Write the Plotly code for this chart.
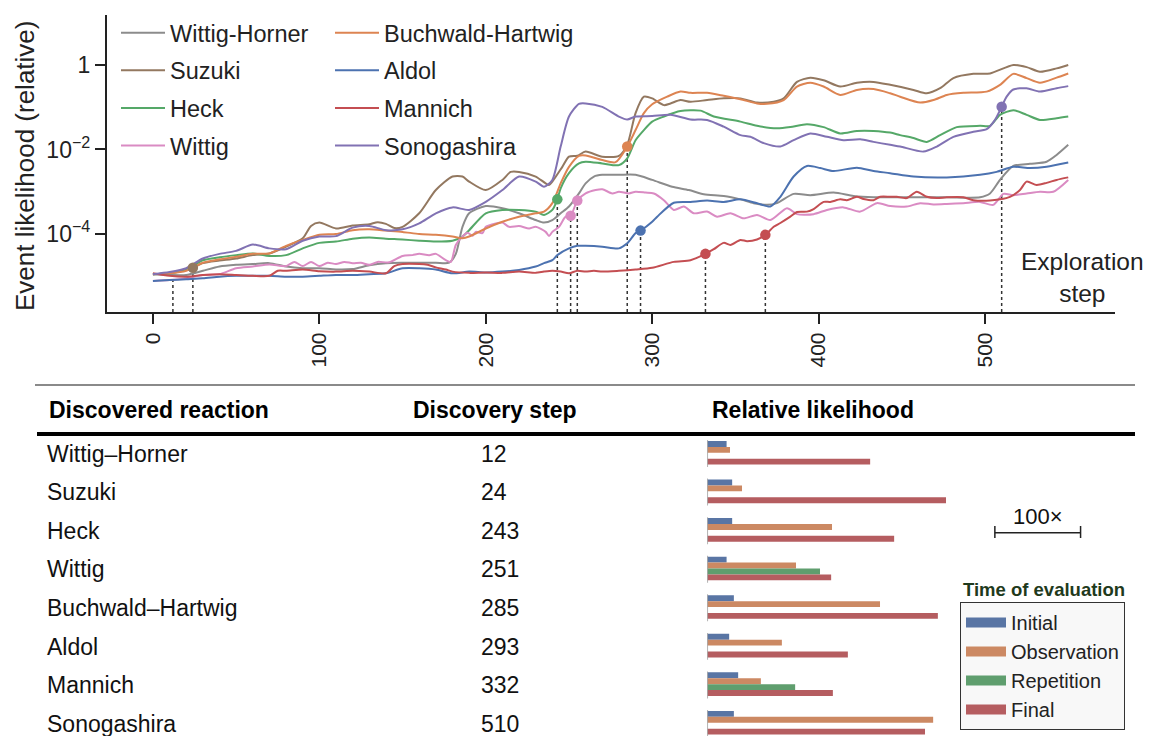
import numpy as np
import plotly.graph_objects as go

W, H = 1151, 736
BODY = 8  # default page margin of the html body
FONT = "Liberation Sans, Arial, Helvetica, sans-serif"

# ---------------- top chart data (log10 of event likelihood) ----------------
wh_steps = [0,10,20,30,40,50,60,70,80,90,100,110,120,130,140,150,160,170,178,182,186,190,200,210,220,230,235,240,245,250,
            256,260,265,270,280,290,300,312,322,331,343,353,361,369,375,385,395,409,421,433,443,457,477,497,503,509,517,527,537,543,550]
wh_log10 = [-4.95,-4.97,-4.97,-4.87,-4.77,-4.73,-4.71,-4.69,-4.77,-4.81,-4.81,-4.84,-4.83,-4.74,-4.69,-4.68,-4.68,-4.68,-4.68,-4.47,
            -3.83,-3.51,-3.34,-3.39,-3.51,-3.67,-3.73,-3.67,-3.51,-3.35,-3.04,-2.80,-2.64,-2.60,-2.60,-2.60,-2.72,-2.88,-2.96,-3.06,
            -3.10,-3.18,-3.27,-3.31,-3.27,-3.05,-3.08,-3.02,-3.10,-3.13,-3.13,-3.13,-3.13,-3.13,-3.04,-2.72,-2.39,-2.34,-2.29,-2.13,-1.89]

suzuki_steps = [0,10,20,24,30,40,50,60,70,80,90,95,100,110,120,130,135,140,145,150,160,170,180,186,190,200,210,215,220,230,
                238,240,246,250,255,260,270,280,285,290,295,300,307,311,317,323,333,343,353,363,373,379,387,395,403,413,423,433,443,457,
                465,473,481,493,503,517,525,533,543,550]
suzuki_log10 = [-4.95,-4.92,-4.85,-4.80,-4.69,-4.63,-4.58,-4.50,-4.46,-4.30,-4.10,-3.81,-3.73,-3.87,-3.80,-3.77,-3.72,-3.76,-3.86,-3.83,
                -3.51,-2.96,-2.64,-2.64,-2.76,-2.96,-2.72,-2.53,-2.53,-2.64,-2.84,-2.76,-2.41,-2.17,-2.15,-2.05,-2.17,-2.15,-1.89,-1.14,
                -0.75,-0.79,-0.95,-0.91,-0.83,-0.87,-0.83,-0.79,-0.79,-0.89,-0.87,-0.79,-0.40,-0.30,-0.36,-0.51,-0.42,-0.40,-0.47,-0.59,
                -0.67,-0.55,-0.31,-0.21,-0.20,0.00,-0.05,-0.16,-0.08,0.00]

heck_steps = [0,10,20,30,40,50,60,70,80,90,100,110,120,130,140,150,160,170,180,186,190,200,210,220,230,235,240,243,245,250,
              256,260,270,280,285,290,295,300,307,317,329,337,353,363,375,383,393,403,413,423,433,443,449,457,465,473,483,497,503,509,
              517,525,533,543,550]
heck_log10 = [-4.95,-4.93,-4.85,-4.62,-4.55,-4.50,-4.46,-4.52,-4.50,-4.34,-4.21,-4.18,-4.11,-4.08,-4.11,-4.13,-4.16,-4.18,-4.16,-4.06,
              -3.91,-3.51,-3.43,-3.43,-3.47,-3.55,-3.43,-3.18,-2.92,-2.56,-2.33,-2.29,-2.33,-2.37,-2.21,-1.78,-1.54,-1.34,-1.22,-1.09,
              -1.08,-1.22,-1.34,-1.44,-1.50,-1.47,-1.40,-1.47,-1.62,-1.56,-1.56,-1.60,-1.66,-1.73,-1.82,-1.66,-1.47,-1.44,-1.44,-1.18,
              -1.07,-1.18,-1.30,-1.26,-1.22]

wittig_steps = [0,10,20,30,40,50,60,70,80,85,90,95,100,105,110,115,120,125,130,135,142,150,156,160,166,170,176,179,182,186,
                189,192,194,198,200,206,210,214,220,226,230,236,238,240,244,248,251,255,260,266,270,276,280,286,290,296,301,307,313,319,
                325,333,339,347,355,363,371,381,387,397,405,415,425,435,443,453,461,469,477,487,497,505,511,517,525,533,541,550]
wittig_log10 = [-5.11,-5.09,-5.05,-4.97,-4.95,-4.81,-4.77,-4.72,-4.76,-4.66,-4.76,-4.66,-4.76,-4.68,-4.71,-4.66,-4.69,-4.68,-4.73,-4.66,
                -4.67,-4.52,-4.50,-4.47,-4.50,-4.47,-4.62,-4.66,-4.26,-4.06,-3.97,-4.04,-3.95,-3.98,-3.83,-3.75,-3.73,-3.83,-3.81,-3.87,
                -3.83,-3.95,-4.05,-3.95,-3.83,-3.59,-3.57,-3.21,-3.04,-2.96,-2.94,-3.04,-3.00,-3.04,-3.00,-3.02,-3.04,-3.20,-3.43,-3.35,
                -3.51,-3.47,-3.59,-3.51,-3.63,-3.55,-3.67,-3.39,-3.53,-3.53,-3.43,-3.37,-3.47,-3.27,-3.34,-3.35,-3.27,-3.30,-3.29,-3.27,
                -3.24,-3.31,-3.05,-3.08,-3.04,-3.00,-3.00,-2.72]

buchwald_steps = [0,10,20,30,40,50,60,70,80,90,100,110,120,130,140,150,160,170,180,186,190,200,210,220,230,235,240,245,250,256,
                  260,270,278,285,290,295,300,309,317,323,333,343,353,363,369,379,387,395,403,413,423,433,443,449,461,469,477,487,501,509,
                  517,525,533,543,550]
buchwald_log10 = [-4.95,-4.93,-4.87,-4.68,-4.60,-4.54,-4.47,-4.46,-4.28,-4.14,-4.02,-4.00,-3.91,-3.89,-3.92,-3.95,-4.00,-4.02,-4.06,-4.10,
                  -4.06,-3.87,-3.71,-3.59,-3.51,-3.47,-3.27,-2.80,-2.41,-2.15,-2.14,-2.25,-2.30,-1.93,-1.54,-1.14,-0.93,-0.75,-0.63,-0.66,
                  -0.66,-0.73,-0.81,-0.91,-0.92,-0.83,-0.51,-0.42,-0.51,-0.71,-0.59,-0.57,-0.67,-0.75,-0.89,-0.83,-0.71,-0.66,-0.63,-0.47,
                  -0.21,-0.31,-0.42,-0.30,-0.20]

aldol_steps = [0,10,20,30,40,50,60,70,80,90,100,110,120,130,140,150,160,170,180,190,200,210,220,230,235,240,243,250,255,260,
               270,280,285,290,293,300,303,313,323,333,343,353,363,371,377,385,393,401,409,423,433,443,457,477,497,507,517,527,537,550]
aldol_log10 = [-5.11,-5.09,-5.07,-5.05,-5.01,-4.99,-4.99,-4.99,-5.01,-5.01,-4.99,-4.97,-4.97,-4.95,-4.93,-4.81,-4.81,-4.84,-4.93,-4.89,
               -4.91,-4.89,-4.85,-4.77,-4.69,-4.62,-4.50,-4.34,-4.28,-4.28,-4.30,-4.34,-4.22,-3.98,-3.92,-3.71,-3.59,-3.26,-3.24,-3.21,
               -3.24,-3.18,-3.27,-3.35,-3.12,-2.64,-2.39,-2.44,-2.51,-2.43,-2.51,-2.56,-2.64,-2.66,-2.60,-2.53,-2.41,-2.44,-2.41,-2.31]

mannich_steps = [0,10,20,30,40,50,60,70,75,80,90,100,110,120,130,140,145,150,160,165,170,176,180,190,200,210,220,230,235,240,
                 245,250,255,260,265,270,280,290,300,313,323,332,337,343,347,353,357,363,368,373,377,383,387,393,397,403,407,413,417,423,
                 427,433,437,443,447,453,459,465,471,477,487,493,503,509,515,521,525,531,537,543,550]
mannich_log10 = [-4.93,-4.99,-5.01,-4.97,-4.95,-4.97,-4.99,-4.99,-4.87,-4.87,-4.84,-4.88,-4.89,-4.87,-4.89,-4.93,-4.76,-4.71,-4.71,-4.73,
                 -4.79,-4.84,-4.89,-4.92,-4.91,-4.92,-4.89,-4.92,-4.89,-4.87,-4.89,-4.93,-4.87,-4.89,-4.87,-4.89,-4.87,-4.84,-4.80,-4.66,
                 -4.62,-4.47,-4.36,-4.21,-4.26,-4.14,-4.17,-4.13,-4.02,-3.83,-3.74,-3.59,-3.48,-3.47,-3.41,-3.24,-3.24,-3.18,-3.20,-3.12,
                 -3.17,-3.20,-3.12,-3.12,-3.12,-3.15,-3.00,-3.12,-3.15,-3.13,-3.13,-3.20,-3.21,-3.18,-3.12,-2.96,-2.76,-2.84,-2.79,-2.72,
                 -2.66]

sonogashira_steps = [0,10,20,30,40,50,60,70,80,90,100,110,120,130,140,150,160,170,180,190,200,210,220,230,235,240,245,250,256,260,
                     270,280,285,290,300,311,323,333,343,353,359,367,377,385,395,405,415,425,433,443,449,463,471,481,493,501,506,510,513,517,
                     525,533,543,550]
sonogashira_log10 = [-4.95,-4.90,-4.81,-4.58,-4.47,-4.40,-4.25,-4.34,-4.36,-4.16,-4.06,-4.05,-3.85,-3.81,-3.91,-3.89,-3.75,-3.51,-3.37,-3.43,
                     -3.24,-2.96,-2.64,-2.76,-2.88,-2.72,-1.93,-1.22,-0.92,-0.91,-0.99,-1.22,-1.29,-1.22,-1.21,-1.18,-1.29,-1.30,-1.46,-1.66,
                     -1.70,-1.85,-1.93,-1.78,-1.62,-1.70,-1.78,-1.76,-1.82,-1.89,-1.93,-2.05,-1.93,-1.70,-1.58,-1.52,-1.30,-0.99,-0.75,-0.58,
                     -0.55,-0.63,-0.55,-0.50]

legend_names = ["Wittig-Horner", "Suzuki", "Heck", "Wittig", "Buchwald-Hartwig", "Aldol", "Mannich", "Sonogashira"]
line_colors = ["#8c8c8c", "#937860", "#55a868", "#da8bc3", "#dd8452", "#4c72b0", "#c44e52", "#8172b3"]
series_steps = [wh_steps, suzuki_steps, heck_steps, wittig_steps, buchwald_steps, aldol_steps, mannich_steps, sonogashira_steps]
series_log10 = [wh_log10, suzuki_log10, heck_log10, wittig_log10, buchwald_log10, aldol_log10, mannich_log10, sonogashira_log10]

# discovery events (dashed drop lines and dots)
event_steps = [12, 24, 243, 251, 255, 285, 293, 332, 368, 510]
event_log10 = [-5.09, -4.80, -3.18, -3.57, -3.21, -1.93, -3.92, -4.47, -4.02, -0.99]
event_series = [0, 1, 2, 3, 3, 4, 5, 6, 6, 7]
event_has_dot = [False, True, True, True, True, True, True, True, True, True]

# ---------------- table data ----------------
reactions = ["Wittig–Horner", "Suzuki", "Heck", "Wittig", "Buchwald–Hartwig", "Aldol", "Mannich", "Sonogashira"]
discovery_steps = [12, 24, 243, 251, 285, 293, 332, 510]
# relative likelihood, in decades (log10 fold)
initial_log10 = [0.45, 0.58, 0.58, 0.45, 0.62, 0.51, 0.72, 0.62]
observation_log10 = [0.53, 0.81, 2.91, 2.07, 4.03, 1.74, 1.25, 5.27]
repetition_log10 = [None, None, None, 2.63, None, None, 2.05, None]
final_log10 = [3.80, 5.57, 4.36, 2.89, 5.38, 3.28, 2.93, 5.08]
bar_names = ["Initial", "Observation", "Repetition", "Final"]
bar_colors = ["#5975a4", "#cc8963", "#5f9e6e", "#b55d60"]
scale_bar_decades = 2  # "100x"

# ---------------- geometry ----------------
X_RANGE = [-27.6, 578.1]
Y_RANGE = [-5.846, 1.183]
FW, FH = W - BODY, H - BODY


def px(p):
    return (p - BODY) / FW


def py(p):
    return 1 - (p - BODY) / FH


fig = go.Figure()

# dashed drop lines
dx, dy = [], []
for s, v in zip(event_steps, event_log10):
    dx += [s, s, None]
    dy += [10 ** Y_RANGE[0], 10 ** v, None]
fig.add_trace(go.Scatter(x=dx, y=dy, mode="lines", line=dict(color="#333333", width=1.5, dash="dot"),
                         showlegend=False, hoverinfo="skip"))

for i, (name, st, lv, c) in enumerate(zip(legend_names, series_steps, series_log10, line_colors)):
    fig.add_trace(go.Scatter(
        x=st, y=[10 ** v for v in lv], mode="lines", name=name,
        line=dict(color=c, width=2, shape="spline", smoothing=0.7),
        legend="legend" if i < 4 else "legend2", legendgroup=name,
    ))

mx = [s for s, d in zip(event_steps, event_has_dot) if d]
my = [10 ** v for v, d in zip(event_log10, event_has_dot) if d]
mc = [line_colors[k] for k, d in zip(event_series, event_has_dot) if d]
fig.add_trace(go.Scatter(x=mx, y=my, mode="markers", marker=dict(size=10.5, color=mc), showlegend=False))

# bars
rows = list(range(len(reactions)))
for name, vals, c in zip(bar_names, [initial_log10, observation_log10, repetition_log10, final_log10], bar_colors):
    fig.add_trace(go.Bar(x=vals, y=rows, orientation="h", marker=dict(color=c, line=dict(width=0)),
                         xaxis="x2", yaxis="y2", showlegend=False, name=name))
for name, c in zip(bar_names, bar_colors):
    fig.add_trace(go.Scatter(x=[None], y=[None], mode="lines", line=dict(color=c, width=12), name=name,
                             xaxis="x2", yaxis="y2", legend="legend3"))

shapes = []
# table rules
shapes.append(dict(type="line", xref="paper", yref="paper", x0=px(35), x1=px(1135), y0=py(385), y1=py(385),
                   line=dict(color="#8a8a8a", width=2)))
shapes.append(dict(type="line", xref="paper", yref="paper", x0=px(37), x1=px(1135), y0=py(434), y1=py(434),
                   line=dict(color="black", width=4)))
# baseline segments per row
for r in rows:
    shapes.append(dict(type="line", xref="x2", yref="y2", x0=0, x1=0, y0=r - 0.33, y1=r + 0.37,
                       line=dict(color="#999999", width=1.5)))
# scale bar
sb0 = 6.71
shapes.append(dict(type="line", xref="x2", yref="paper", x0=sb0, x1=sb0 + scale_bar_decades, y0=py(532.7), y1=py(532.7),
                   line=dict(color="#222", width=1.5)))
for xe in [sb0, sb0 + scale_bar_decades]:
    shapes.append(dict(type="line", xref="x2", yref="paper", x0=xe, x1=xe, y0=py(526), y1=py(538),
                       line=dict(color="#222", width=1.5)))

ann = []
tf = dict(family=FONT, size=23, color="black")
ann.append(dict(text="<b>Discovered reaction</b>", x=px(47), y=py(410), xref="paper", yref="paper",
                xanchor="left", yanchor="middle", showarrow=False, font=tf))
ann.append(dict(text="<b>Discovery step</b>", x=px(411), y=py(410), xref="paper", yref="paper",
                xanchor="left", yanchor="middle", showarrow=False, font=tf))
ann.append(dict(text="<b>Relative likelihood</b>", x=px(710), y=py(410), xref="paper", yref="paper",
                xanchor="left", yanchor="middle", showarrow=False, font=tf))
rf = dict(family=FONT, size=23, color="#111")
for r, (name, st) in enumerate(zip(reactions, discovery_steps)):
    ann.append(dict(text=name, x=px(45), y=r, xref="paper", yref="y2", yshift=-1,
                    xanchor="left", yanchor="middle", showarrow=False, font=rf))
    ann.append(dict(text=str(st), x=px(479), y=r, xref="paper", yref="y2", yshift=-1,
                    xanchor="left", yanchor="middle", showarrow=False, font=rf))
ann.append(dict(text="100×", x=sb0 + scale_bar_decades / 2, y=py(517), xref="x2", yref="paper",
                xanchor="center", yanchor="middle", showarrow=False, font=dict(family=FONT, size=22, color="#111")))
ann.append(dict(text="<b>Time of evaluation</b>", x=px(1044), y=py(589), xref="paper", yref="paper",
                xanchor="center", yanchor="middle", showarrow=False, font=dict(family=FONT, size=18.5, color="#1f3a1c")))
ann.append(dict(text="Event likelihood (relative)", x=px(25), y=py(166), xref="paper", yref="paper", textangle=-90,
                xanchor="center", yanchor="middle", showarrow=False, font=dict(family=FONT, size=26, color="#222")))
ann.append(dict(text="Exploration<br>step", x=px(1082), y=py(277), xref="paper", yref="paper",
                xanchor="center", yanchor="middle", showarrow=False, font=dict(family=FONT, size=24.5, color="#222")))

lf = dict(family=FONT, size=23.5, color="#222")
fig.update_layout(
    width=FW, height=FH, autosize=False,
    margin=dict(l=0, r=0, t=0, b=0),
    paper_bgcolor="white", plot_bgcolor="rgba(0,0,0,0)",
    font=dict(family=FONT, color="#222"),
    barmode="group", bargap=0.388, bargroupgap=0.0,
    xaxis=dict(domain=[px(107), px(1115)], range=X_RANGE, showgrid=False, zeroline=False,
               showline=True, linecolor="#222", linewidth=2.2,
               tickvals=[0, 100, 200, 300, 400, 500], ticks="outside", ticklen=10, tickwidth=2, tickcolor="#222",
               tickangle=-90, tickfont=dict(family=FONT, size=21, color="#222")),
    yaxis=dict(domain=[py(312), py(15)], type="log", range=Y_RANGE, showgrid=False, zeroline=False,
               showline=True, linecolor="#222", linewidth=2.2,
               tickvals=[1e-4, 1e-2, 1], ticktext=["10<sup>−4</sup>", "10<sup>−2</sup>", "1"],
               ticks="outside", ticklen=10, tickwidth=2, tickcolor="#222",
               tickfont=dict(family=FONT, size=23, color="#222")),
    xaxis2=dict(domain=[px(707.3), px(1135)], range=[0, 9.98], visible=False, anchor="y2"),
    yaxis2=dict(domain=[0, py(433.5)], range=[7.344, -0.5], visible=False, anchor="x2"),
    legend=dict(x=px(116), y=py(11), xanchor="left", yanchor="top", bgcolor="rgba(0,0,0,0)",
                font=lf, traceorder="grouped", tracegroupgap=4, itemwidth=44),
    legend2=dict(x=px(330), y=py(11), xanchor="left", yanchor="top", bgcolor="rgba(0,0,0,0)",
                 font=lf, traceorder="grouped", tracegroupgap=4, itemwidth=44),
    legend3=dict(x=px(960), y=py(602), xanchor="left", yanchor="top", bgcolor="#f8f8f8",
                 bordercolor="#333", borderwidth=1, font=dict(family=FONT, size=20, color="#222"), itemwidth=40),
    shapes=shapes, annotations=ann,
)

fig.write_html("out.html")
